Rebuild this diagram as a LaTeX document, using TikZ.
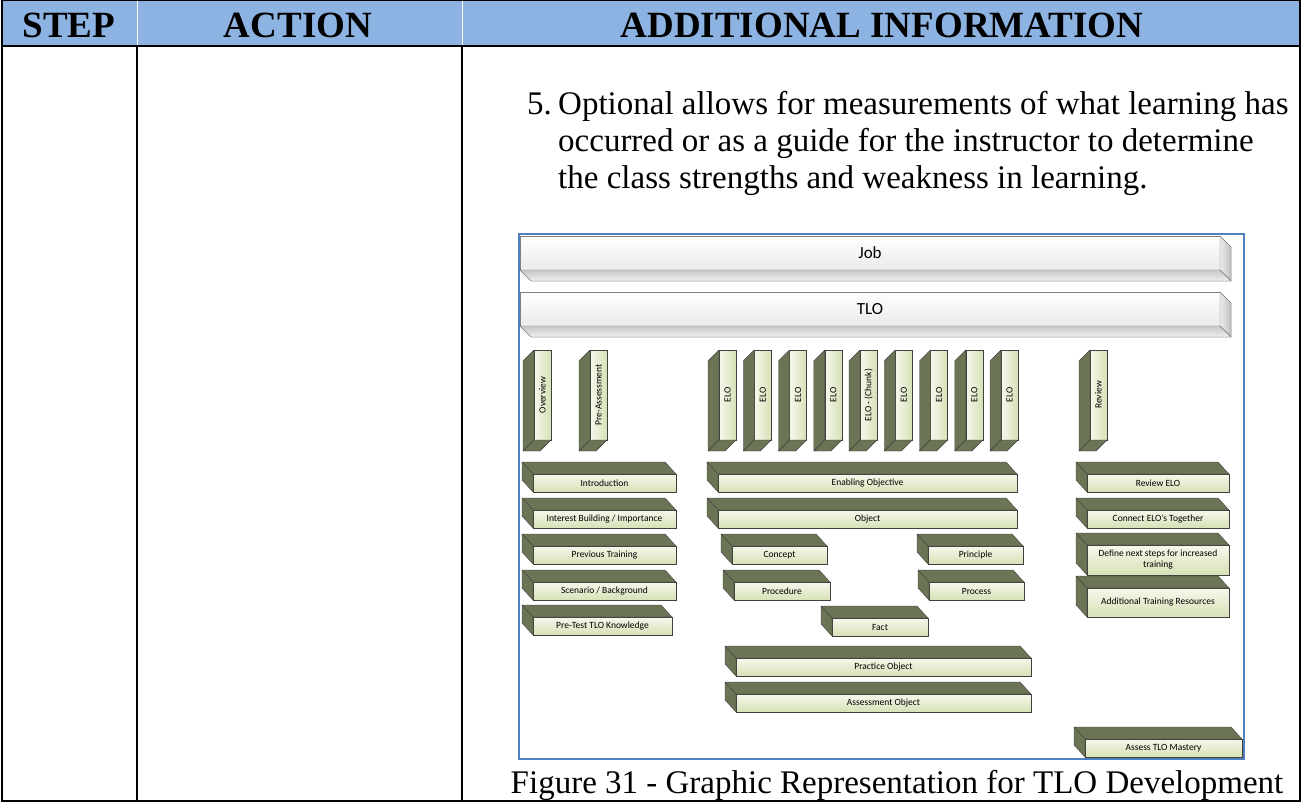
\documentclass[tikz,border=0pt]{standalone}
\usepackage{fontspec}
\setmainfont{Liberation Serif}
\newfontfamily\calibri{Carlito}
\usepackage{tikz}
\definecolor{headblue}{RGB}{141,179,226}
\definecolor{frameblue}{RGB}{79,129,189}
\definecolor{olivedark}{RGB}{107,116,84}
\definecolor{olivelight}{RGB}{246,248,236}
\definecolor{olivemid}{RGB}{214,225,182}
\newcommand{\boxfont}{\calibri\fontsize{9.5}{11}\selectfont}
\tikzset{
    tableline/.style={black, line width=2pt},
    headtext/.style={inner sep=0pt, anchor=base, font=\fontsize{37}{40}\selectfont\bfseries},
    bodytext/.style={inner sep=0pt, anchor=base west, font=\fontsize{33}{37}\selectfont},
    olive front/.style={draw=black!75, top color=olivelight, bottom color=olivemid,
        inner sep=0pt, outer sep=0pt, align=center, font=\boxfont, anchor=north west},
    olive front v/.style={draw=black!75, left color=olivelight, right color=olivemid,
        inner sep=0pt, outer sep=0pt, anchor=north west},
    olive side/.style={draw=black!75, fill=olivedark, line join=round},
    gray front/.style={draw=black!50, top color=white, bottom color=black!8,
        inner sep=0pt, outer sep=0pt, anchor=north west, font=\calibri\fontsize{17}{20}\selectfont},
    gray right/.style={draw=black!50, left color=black!8, right color=black!25, line join=round},
    gray bottom/.style={draw=black!50, top color=black!22, bottom color=black!6, line join=round},
}
% name, x, y, text
\newcommand{\graybar}[4]{
    \node[gray front, minimum width=700, minimum height=34] (#1) at (#2,#3) {#4};
    \filldraw[gray right] (#1.north east) -- ++(11,11) -- ([shift={(11,11)}]#1.south east) -- (#1.south east) -- cycle;
    \filldraw[gray bottom] (#1.south west) -- ++(11,11) -- ([shift={(11,11)}]#1.south east) -- (#1.south east) -- cycle;
}
% name, x, y, width, height, text
\newcommand{\oliveh}[6]{
    \node[olive front, minimum width=#4, minimum height=#5] (#1) at (#2,#3) {#6};
    \filldraw[olive side] (#1.north west) -- ++(-11,-12) -- ([shift={(-11,-12)}]#1.north east) -- (#1.north east) -- cycle;
    \filldraw[olive side] (#1.north west) -- ++(-11,-12) -- ([shift={(-11,-12)}]#1.south west) -- (#1.south west) -- cycle;
}
% name, x, text
\newcommand{\olivev}[3]{
    \node[olive front v, minimum width=17, minimum height=90,
        label={[rotate=90, font=\boxfont]center:#3}] (#1) at (#2,350) {};
    \filldraw[olive side] (#1.north west) -- ++(-11,11) -- ([shift={(-11,11)}]#1.south west) -- (#1.south west) -- cycle;
    \filldraw[olive side] (#1.south west) -- ++(-11,11) -- ([shift={(-11,11)}]#1.south east) -- (#1.south east) -- cycle;
}

\begin{document}
\begin{tikzpicture}[x=1pt, y=-1pt]
\useasboundingbox (0,0) rectangle (1302,803);
\fill[headblue] (2,0) rectangle (1300,46);
\draw[white, line width=1pt] (137,0) -- (137,45) (462,0) -- (462,45);
\draw[tableline] (2,0) rectangle (1300,801);
\draw[tableline] (2,46) -- (1300,46);
\draw[tableline] (137,46) -- (137,801);
\draw[tableline] (462,46) -- (462,801);
\node[headtext] (step) at (69,37) {STEP};
\node[headtext] (action) at (298,37) {ACTION};
\node[headtext] (addinfo) at (882,37) {ADDITIONAL INFORMATION};

\node[bodytext] (num) at (527,114) {5.};
\node[bodytext] (line1) at (558,114) {Optional allows for measurements of what learning has};
\node[bodytext] (line2) at (558,151) {occurred or as a guide for the instructor to determine};
\node[bodytext] (line3) at (558,188) {the class strengths and weakness in learning.};

\draw[frameblue, line width=1.5pt] (519,234) rectangle (1244,759);
\graybar{job}{520}{236}{Job}
\graybar{tlo}{520}{292}{TLO}

\olivev{overview}{534}{Overview}
\olivev{preassess}{590}{Pre-Assessment}
\foreach \i/\txt [count=\n from 0] in {1/ELO,2/ELO,3/ELO,4/ELO,5/{ELO - (Chunk)},6/ELO,7/ELO,8/ELO,9/ELO}
    {\olivev{elo\i}{719+35.25*\n}{\txt}}
\olivev{review}{1090}{Review}

\oliveh{intro}{533}{474}{143}{18}{Introduction}
\oliveh{interest}{533}{510}{143}{18}{Interest Building / Importance}
\oliveh{prevtrain}{533}{546}{143}{18}{Previous Training}
\oliveh{scenario}{533}{582}{143}{18}{Scenario / Background}
\oliveh{pretest}{533}{617}{139}{18}{Pre-Test TLO Knowledge}

\oliveh{enabling}{718}{474}{299}{18}{Enabling Objective}
\oliveh{object}{718}{510}{299}{18}{Object}
\oliveh{concept}{732}{546}{95}{18}{Concept}
\oliveh{principle}{928}{546}{95}{18}{Principle}
\oliveh{procedure}{734}{582}{96}{18}{Procedure}
\oliveh{process}{929}{582}{95}{18}{Process}
\oliveh{fact}{832}{618}{96}{18}{Fact}
\oliveh{practice}{736}{658}{295}{18}{Practice Object}
\oliveh{assessobj}{736}{694}{295}{18}{Assessment Object}

\oliveh{reviewelo}{1087}{474}{142}{18}{Review ELO}
\oliveh{connect}{1087}{510}{142}{18}{Connect ELO’s Together}
\oliveh{nextsteps}{1087}{545}{142}{30}{Define next steps for increased\\training}
\oliveh{addtrain}{1087}{588}{142}{29}{Additional Training Resources}
\oliveh{assesstlo}{1085}{739}{157}{18}{Assess TLO Mastery}

\node[bodytext, anchor=base] (caption) at (897,793) {Figure 31 - Graphic Representation for TLO Development};
\end{tikzpicture}
\end{document}
